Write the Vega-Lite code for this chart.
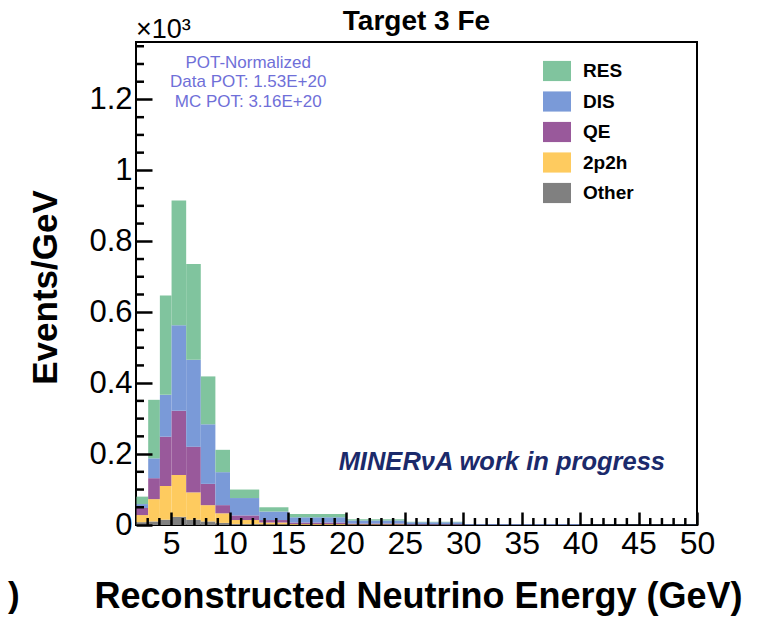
{
  "$schema": "https://vega.github.io/schema/vega-lite/v6.json",
  "width": 561,
  "height": 483,
  "autosize": {"type": "none"},
  "padding": {"left": 136, "top": 42, "right": 66, "bottom": 92},
  "background": "white",
  "config": {
    "view": {"stroke": "black", "strokeWidth": 2},
    "font": "Liberation Sans",
    "axis": {"grid": false, "domain": false, "ticks": true, "tickColor": "black", "labelColor": "black", "titleColor": "black", "labelFont": "Liberation Sans", "titleFont": "Liberation Sans"}
  },
  "datasets": {
    "hist": [
      {"lo": 2, "hi": 3, "c": "Other", "v": 0.008},
      {"lo": 2, "hi": 3, "c": "2p2h", "v": 0.020},
      {"lo": 2, "hi": 3, "c": "QE", "v": 0.020},
      {"lo": 2, "hi": 3, "c": "DIS", "v": 0.011},
      {"lo": 2, "hi": 3, "c": "RES", "v": 0.021},
      {"lo": 3, "hi": 4, "c": "Other", "v": 0.010},
      {"lo": 3, "hi": 4, "c": "2p2h", "v": 0.063},
      {"lo": 3, "hi": 4, "c": "QE", "v": 0.059},
      {"lo": 3, "hi": 4, "c": "DIS", "v": 0.056},
      {"lo": 3, "hi": 4, "c": "RES", "v": 0.165},
      {"lo": 4, "hi": 5, "c": "Other", "v": 0.015},
      {"lo": 4, "hi": 5, "c": "2p2h", "v": 0.095},
      {"lo": 4, "hi": 5, "c": "QE", "v": 0.139},
      {"lo": 4, "hi": 5, "c": "DIS", "v": 0.118},
      {"lo": 4, "hi": 5, "c": "RES", "v": 0.280},
      {"lo": 5, "hi": 6.25, "c": "Other", "v": 0.023},
      {"lo": 5, "hi": 6.25, "c": "2p2h", "v": 0.118},
      {"lo": 5, "hi": 6.25, "c": "QE", "v": 0.181},
      {"lo": 5, "hi": 6.25, "c": "DIS", "v": 0.241},
      {"lo": 5, "hi": 6.25, "c": "RES", "v": 0.352},
      {"lo": 6.25, "hi": 7.5, "c": "Other", "v": 0.015},
      {"lo": 6.25, "hi": 7.5, "c": "2p2h", "v": 0.077},
      {"lo": 6.25, "hi": 7.5, "c": "QE", "v": 0.129},
      {"lo": 6.25, "hi": 7.5, "c": "DIS", "v": 0.245},
      {"lo": 6.25, "hi": 7.5, "c": "RES", "v": 0.270},
      {"lo": 7.5, "hi": 8.75, "c": "Other", "v": 0.010},
      {"lo": 7.5, "hi": 8.75, "c": "2p2h", "v": 0.046},
      {"lo": 7.5, "hi": 8.75, "c": "QE", "v": 0.060},
      {"lo": 7.5, "hi": 8.75, "c": "DIS", "v": 0.168},
      {"lo": 7.5, "hi": 8.75, "c": "RES", "v": 0.135},
      {"lo": 8.75, "hi": 10, "c": "Other", "v": 0.006},
      {"lo": 8.75, "hi": 10, "c": "2p2h", "v": 0.027},
      {"lo": 8.75, "hi": 10, "c": "QE", "v": 0.023},
      {"lo": 8.75, "hi": 10, "c": "DIS", "v": 0.093},
      {"lo": 8.75, "hi": 10, "c": "RES", "v": 0.063},
      {"lo": 10, "hi": 12.5, "c": "Other", "v": 0.003},
      {"lo": 10, "hi": 12.5, "c": "2p2h", "v": 0.011},
      {"lo": 10, "hi": 12.5, "c": "QE", "v": 0.013},
      {"lo": 10, "hi": 12.5, "c": "DIS", "v": 0.049},
      {"lo": 10, "hi": 12.5, "c": "RES", "v": 0.024},
      {"lo": 12.5, "hi": 15, "c": "Other", "v": 0.002},
      {"lo": 12.5, "hi": 15, "c": "2p2h", "v": 0.005},
      {"lo": 12.5, "hi": 15, "c": "QE", "v": 0.007},
      {"lo": 12.5, "hi": 15, "c": "DIS", "v": 0.024},
      {"lo": 12.5, "hi": 15, "c": "RES", "v": 0.012},
      {"lo": 15, "hi": 20, "c": "Other", "v": 0.001},
      {"lo": 15, "hi": 20, "c": "2p2h", "v": 0.002},
      {"lo": 15, "hi": 20, "c": "QE", "v": 0.004},
      {"lo": 15, "hi": 20, "c": "DIS", "v": 0.015},
      {"lo": 15, "hi": 20, "c": "RES", "v": 0.009},
      {"lo": 20, "hi": 25, "c": "Other", "v": 0.0005},
      {"lo": 20, "hi": 25, "c": "2p2h", "v": 0.0015},
      {"lo": 20, "hi": 25, "c": "QE", "v": 0.002},
      {"lo": 20, "hi": 25, "c": "DIS", "v": 0.009},
      {"lo": 20, "hi": 25, "c": "RES", "v": 0.003},
      {"lo": 25, "hi": 30, "c": "Other", "v": 0.0003},
      {"lo": 25, "hi": 30, "c": "2p2h", "v": 0.0007},
      {"lo": 25, "hi": 30, "c": "QE", "v": 0.001},
      {"lo": 25, "hi": 30, "c": "DIS", "v": 0.006},
      {"lo": 25, "hi": 30, "c": "RES", "v": 0.001},
      {"lo": 30, "hi": 40, "c": "QE", "v": 0.0005},
      {"lo": 30, "hi": 40, "c": "DIS", "v": 0.002},
      {"lo": 30, "hi": 40, "c": "RES", "v": 0.0005},
      {"lo": 40, "hi": 50, "c": "DIS", "v": 0.0007}
    ],
    "minorx": [
      {"t": 3}, {"t": 4}, {"t": 6}, {"t": 7}, {"t": 8}, {"t": 9},
      {"t": 11}, {"t": 12}, {"t": 13}, {"t": 14}, {"t": 16}, {"t": 17}, {"t": 18}, {"t": 19},
      {"t": 21}, {"t": 22}, {"t": 23}, {"t": 24}, {"t": 26}, {"t": 27}, {"t": 28}, {"t": 29},
      {"t": 31}, {"t": 32}, {"t": 33}, {"t": 34}, {"t": 36}, {"t": 37}, {"t": 38}, {"t": 39},
      {"t": 41}, {"t": 42}, {"t": 43}, {"t": 44}, {"t": 46}, {"t": 47}, {"t": 48}, {"t": 49}
    ],
    "minory": [
      {"t": 0.05}, {"t": 0.1}, {"t": 0.15}, {"t": 0.25}, {"t": 0.3}, {"t": 0.35},
      {"t": 0.45}, {"t": 0.5}, {"t": 0.55}, {"t": 0.65}, {"t": 0.7}, {"t": 0.75},
      {"t": 0.85}, {"t": 0.9}, {"t": 0.95}, {"t": 1.05}, {"t": 1.1}, {"t": 1.15},
      {"t": 1.25}, {"t": 1.3}, {"t": 1.35}
    ]
  },
  "layer": [
    {
      "data": {"name": "hist"},
      "transform": [{"calculate": "indexof(['Other','2p2h','QE','DIS','RES'], datum.c)", "as": "ord"}],
      "mark": {"type": "bar", "strokeWidth": 0, "binSpacing": 0},
      "encoding": {
        "x": {"field": "lo", "type": "quantitative", "bin": "binned",
          "scale": {"domain": [2, 50], "nice": false, "zero": false},
          "axis": {"orient": "bottom", "values": [5,10,15,20,25,30,35,40,45,50], "zindex": 1, "ticks": true,
            "tickSize": -13, "tickWidth": 2.5, "labelFontSize": 32, "labelPadding": 16, "labelFlush": false, "labelOverlap": false, "labelBound": false,
            "title": "Reconstructed Neutrino Energy (GeV)", "titleFontSize": 36, "titleFontWeight": "bold", "titleX": 282, "titleY": 71, "titleAlign": "center", "titleBaseline": "middle"}},
        "x2": {"field": "hi"},
        "y": {"field": "v", "type": "quantitative", "stack": "zero",
          "scale": {"domain": [0, 1.362], "nice": false},
          "axis": {"orient": "left", "values": [0,0.2,0.4,0.6,0.8,1,1.2], "format": "~g", "zindex": 1, "ticks": true,
            "tickSize": -16, "tickWidth": 2.5, "labelFontSize": 31, "labelPadding": 20, "labelFlush": false, "labelOverlap": false,
            "title": "Events/GeV", "titleFontSize": 35, "titleFontWeight": "bold", "titleAngle": -90, "titleX": -91, "titleY": 245, "titleAlign": "center", "titleBaseline": "middle"}},
        "color": {"field": "c", "type": "nominal",
          "scale": {"domain": ["RES","DIS","QE","2p2h","Other"], "range": ["#80c49e","#7a9ad8","#99599b","#fecb5f","#808080"]},
          "legend": {"orient": "none", "legendX": 407, "legendY": 15, "title": null, "padding": 0,
            "symbolType": "M-1,-0.72H1V0.72H-1Z", "symbolSize": 784, "symbolStrokeWidth": 0, "symbolOpacity": 1,
            "labelFontSize": 19, "labelFontWeight": "bold", "labelFont": "Liberation Sans", "labelColor": "black", "labelOffset": 12, "rowPadding": 5.5}},
        "order": {"field": "ord", "type": "quantitative"}
      }
    },
    {
      "data": {"name": "minorx"},
      "mark": {"type": "rule", "color": "black", "strokeWidth": 2.5},
      "encoding": {
        "x": {"field": "t", "type": "quantitative"},
        "y": {"datum": 0, "type": "quantitative"},
        "y2": {"datum": 0.0197}
      }
    },
    {
      "data": {"name": "minory"},
      "mark": {"type": "rule", "color": "black", "strokeWidth": 2.5},
      "encoding": {
        "y": {"field": "t", "type": "quantitative"},
        "x": {"datum": 2, "type": "quantitative"},
        "x2": {"datum": 2.684}
      }
    },
    {
      "data": {"values": [{"px": 26, "py": 1.362, "s": "Target 3 Fe"}]},
      "mark": {"type": "text", "fontSize": 28, "fontWeight": "bold", "align": "center", "baseline": "alphabetic", "dy": -12, "color": "black", "font": "Liberation Sans"},
      "encoding": {"x": {"field": "px", "type": "quantitative"}, "y": {"field": "py", "type": "quantitative"}, "text": {"field": "s"}}
    },
    {
      "data": {"values": [
        {"px": 11.6, "py": 1.304, "s": "POT-Normalized"},
        {"px": 11.6, "py": 1.249, "s": "Data POT: 1.53E+20"},
        {"px": 11.6, "py": 1.194, "s": "MC POT: 3.16E+20"}
      ]},
      "mark": {"type": "text", "fontSize": 17, "align": "center", "baseline": "middle", "color": "#6f6fd8", "font": "Liberation Sans"},
      "encoding": {"x": {"field": "px", "type": "quantitative"}, "y": {"field": "py", "type": "quantitative"}, "text": {"field": "s"}}
    },
    {
      "data": {"values": [{"px": 33.3, "py": 0.178, "s": "MINERνA work in progress"}]},
      "mark": {"type": "text", "fontSize": 25.5, "fontWeight": "bold", "fontStyle": "italic", "align": "center", "baseline": "middle", "color": "#1b2a6b", "font": "Liberation Sans"},
      "encoding": {"x": {"field": "px", "type": "quantitative"}, "y": {"field": "py", "type": "quantitative"}, "text": {"field": "s"}}
    },
    {
      "data": {"values": [{"px": 2, "py": 1.362, "s": "×10³"}]},
      "mark": {"type": "text", "fontSize": 27, "align": "left", "baseline": "alphabetic", "dy": -4, "color": "black", "font": "Liberation Sans"},
      "encoding": {"x": {"field": "px", "type": "quantitative"}, "y": {"field": "py", "type": "quantitative"}, "text": {"field": "s"}}
    },
    {
      "data": {"values": [{"px": -8.95, "py": -0.2, "s": ")"}]},
      "mark": {"type": "text", "fontSize": 35, "fontWeight": "bold", "align": "left", "baseline": "middle", "color": "black", "font": "Liberation Sans"},
      "encoding": {"x": {"field": "px", "type": "quantitative"}, "y": {"field": "py", "type": "quantitative"}, "text": {"field": "s"}}
    }
  ]
}
